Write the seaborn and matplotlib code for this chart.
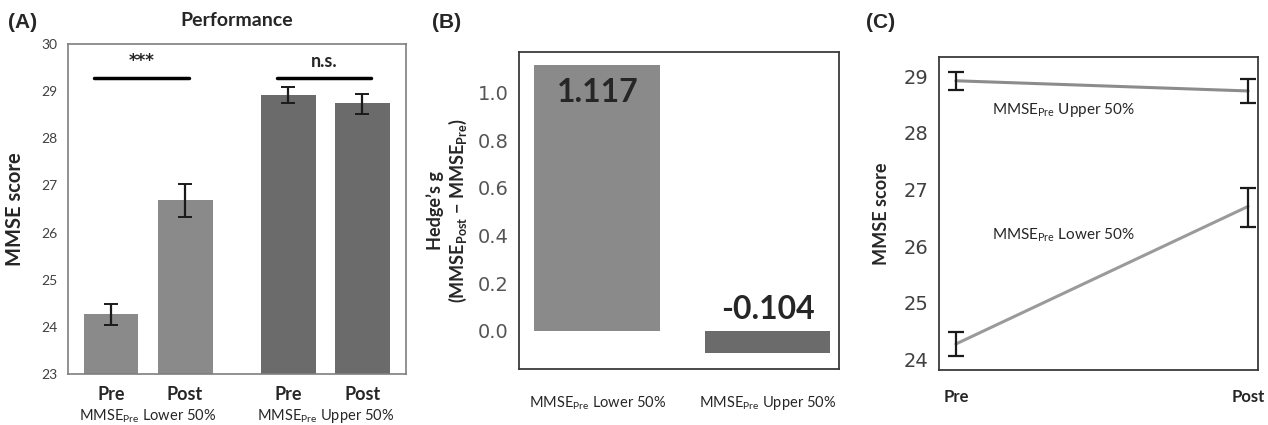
import numpy as np
import pandas as pd
import matplotlib
matplotlib.use("Agg")
import matplotlib.pyplot as plt
import seaborn as sns

sns.set_style("white")
plt.rcParams['font.family'] = ['Lato', 'DejaVu Sans']

# ---------------------------------------------------------
# DATA
# ---------------------------------------------------------
groups = ["MMSE$_{\\mathregular{Pre}}$ Lower 50%", "MMSE$_{\\mathregular{Pre}}$ Upper 50%"]
sessions = ["Pre", "Post"]
mmse_lower = [24.27, 26.70]
mmse_upper = [28.92, 28.74]
err_lower_lo = [24.05, 26.33]
err_lower_hi = [24.48, 27.03]
err_upper_lo = [28.75, 28.52]
err_upper_hi = [29.08, 28.95]
hedges_g = [1.117, -0.104]
hedges_bar = [1.117, -0.092]
hedges_labels = ["1.117", "-0.104"]

bar_pos = [0, 1, 2.39, 3.39]
grey_light = "#8a8a8a"
grey_dark = "#6b6b6b"
spine_col = "#7f7f7f"

fig = plt.figure(figsize=(12.68, 4.25), dpi=100)
W, H = 1268, 425
def box(l, t, r, b):
    return [l / W, 1 - b / H, (r - l) / W, (b - t) / H]

axA = fig.add_axes(box(68, 44, 406, 374))
axB = fig.add_axes(box(519, 52, 839, 369))
axC = fig.add_axes(box(939, 57, 1258, 370))

# ---------------------------------------------------------
# (A) bar chart
# ---------------------------------------------------------
dfA = pd.DataFrame({
    "pos": bar_pos,
    "score": mmse_lower + mmse_upper,
    "lo": err_lower_lo + err_upper_lo,
    "hi": err_lower_hi + err_upper_hi,
    "color": [grey_light] * 2 + [grey_dark] * 2,
})
axA.bar(dfA["pos"], dfA["score"] - 23, bottom=23, width=0.74,
        color=dfA["color"], edgecolor="none")
axA.errorbar(dfA["pos"], dfA["score"],
             yerr=[dfA["score"] - dfA["lo"], dfA["hi"] - dfA["score"]],
             fmt="none", ecolor="#1a1a1a", elinewidth=1.6, capsize=5, capthick=1.4)
axA.set_xlim(-0.58, 3.98)
axA.set_ylim(23, 30)
axA.set_yticks(range(23, 31))
axA.tick_params(axis="y", labelsize=10, labelcolor="#404040", length=4, color=spine_col)
axA.set_xticks(bar_pos)
axA.set_xticklabels(sessions * 2, fontsize=13, fontweight="bold")
axA.tick_params(axis="x", length=4, color=spine_col, pad=5)
axA.set_ylabel("MMSE score", fontsize=14.5, fontweight="bold", labelpad=12)
axA.set_title("Performance", fontsize=14, fontweight="bold", pad=13)
for s in axA.spines.values():
    s.set_color(spine_col)
    s.set_linewidth(1.2)
# significance bars
axA.plot([-0.23, 1.05], [29.28, 29.28], color="black", lw=2.5)
axA.text(0.41, 29.45, "***", ha="center", va="bottom", fontsize=12,
         fontweight="bold", family="DejaVu Sans")
axA.plot([2.24, 3.51], [29.28, 29.28], color="black", lw=2.5)
axA.text(2.875, 29.45, "n.s.", ha="center", va="bottom", fontsize=13, fontweight="bold")
for x, g in zip([0.5, 2.89], groups):
    axA.text(x, -0.128, g, transform=axA.get_xaxis_transform(), ha="center",
             va="center", fontsize=10.5)
fig.text(8 / W, 1 - 23 / H, "(A)", fontsize=15, fontweight="bold", va="center",
         family="Liberation Sans")

# ---------------------------------------------------------
# (B) Hedge's g
# ---------------------------------------------------------
dfB = pd.DataFrame({"group": groups, "g": hedges_bar})
sns.barplot(data=dfB, x="group", y="g", hue="group",
            palette=[grey_light, grey_dark], width=0.74, ax=axB, legend=False,
            edgecolor="none", saturation=1)
axB.set_xlim(-0.46, 1.42)
axB.set_ylim(-0.16, 1.17)
axB.set_yticks([0.0, 0.2, 0.4, 0.6, 0.8, 1.0])
axB.set_yticklabels(["0.0", "0.2", "0.4", "0.6", "0.8", "1.0"], family="DejaVu Sans")
axB.tick_params(axis="y", labelsize=14, labelcolor="#555555", length=4, color=spine_col)
axB.tick_params(axis="x", labelsize=10.5, length=4, color=spine_col, pad=14)
axB.set_xlabel("")
axB.set_ylabel("Hedge\u2019s g\n(MMSE$_{\\mathregular{Post}}$ \u2212 MMSE$_{\\mathregular{Pre}}$)",
               fontsize=13, fontweight="bold", labelpad=6)
for s in axB.spines.values():
    s.set_color("#3a3a3a")
    s.set_linewidth(1.3)
axB.text(0, 1.0, hedges_labels[0], ha="center", va="center", fontsize=23, fontweight="bold")
axB.text(1, 0.09, hedges_labels[1], ha="center", va="center", fontsize=23, fontweight="bold")
fig.text(432 / W, 1 - 23 / H, "(B)", fontsize=15, fontweight="bold", va="center",
         family="Liberation Sans")

# ---------------------------------------------------------
# (C) interaction plot
# ---------------------------------------------------------
dfC = pd.DataFrame({
    "session": sessions * 2,
    "x": [0, 1, 0, 1],
    "score": mmse_upper + mmse_lower,
    "lo": err_upper_lo + err_lower_lo,
    "hi": err_upper_hi + err_lower_hi,
    "group": ["upper", "upper", "lower", "lower"],
})
sns.lineplot(data=dfC, x="x", y="score", hue="group",
             palette={"upper": "#8c8c8c", "lower": "#9a9a9a"}, lw=2.2,
             ax=axC, legend=False)
axC.errorbar(dfC["x"], dfC["score"],
             yerr=[dfC["score"] - dfC["lo"], dfC["hi"] - dfC["score"]],
             fmt="none", ecolor="#1a1a1a", elinewidth=1.6, capsize=6, capthick=1.6)
axC.set_xlim(-0.058, 1.034)
axC.set_ylim(23.81, 29.34)
axC.set_yticks([24, 25, 26, 27, 28, 29])
axC.set_yticklabels([str(v) for v in [24, 25, 26, 27, 28, 29]], family="DejaVu Sans")
axC.tick_params(axis="y", labelsize=14, labelcolor="#404040", length=4, color=spine_col)
axC.set_xticks([0, 1])
axC.set_xticklabels(sessions, fontsize=12, fontweight="bold")
axC.tick_params(axis="x", length=4, color=spine_col, pad=10)
axC.set_xlabel("")
axC.set_ylabel("MMSE score", fontsize=13, fontweight="bold", labelpad=10)
for s in axC.spines.values():
    s.set_color("#3a3a3a")
    s.set_linewidth(1.3)
axC.text(0.124, 28.4, groups[1], ha="left", va="center", fontsize=11)
axC.text(0.124, 26.2, groups[0], ha="left", va="center", fontsize=11)
fig.text(866 / W, 1 - 23 / H, "(C)", fontsize=15, fontweight="bold", va="center",
         family="Liberation Sans")

fig.savefig("out.png", dpi=100)
